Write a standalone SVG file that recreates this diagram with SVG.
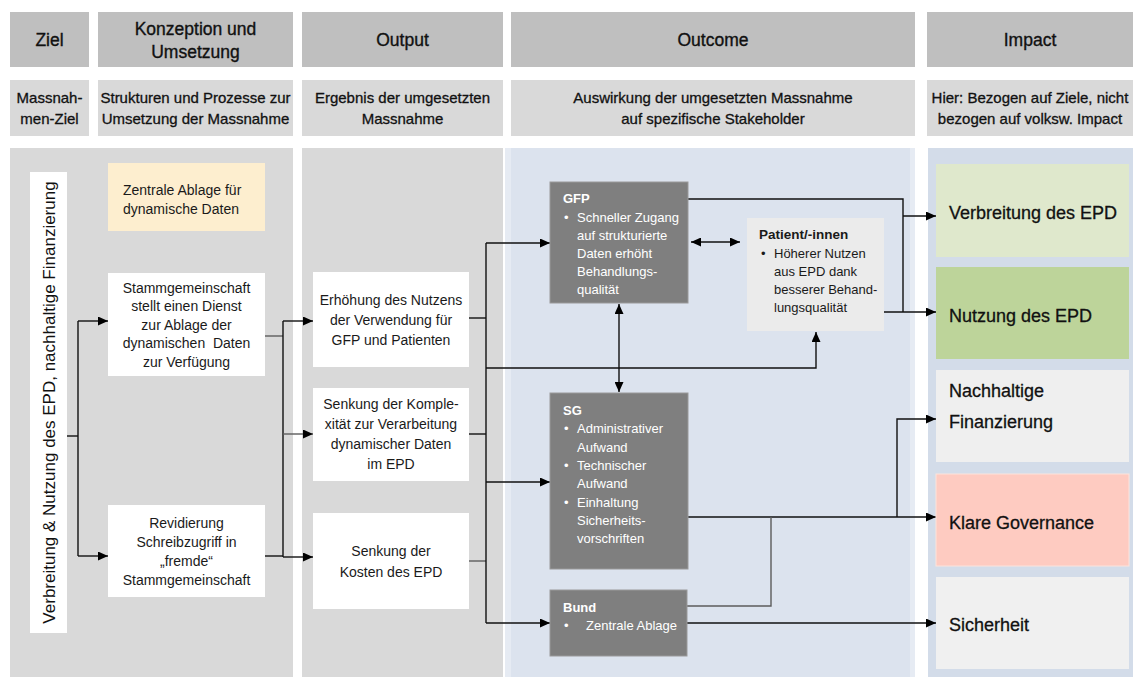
<svg xmlns="http://www.w3.org/2000/svg" width="1133" height="677" viewBox="0 0 1133 677">
  <defs>
    <style>
      text { font-family: "Liberation Sans", Arial, sans-serif; }
      .hdr { fill: #bfbfbf; }
      .sub { fill: #d9d9d9; }
      .col { fill: #d9d9d9; }
      .wbox { fill: #ffffff; }
      .dbox { fill: #7f7f7f; stroke: #9a9a9a; stroke-width: 1; }
      .t-h { font-size: 17.5px; fill: #111; stroke: #111; stroke-width: 0.35; text-anchor: middle; }
      .t-s { font-size: 15px; fill: #111; stroke: #111; stroke-width: 0.3; text-anchor: middle; }
      .t-b { font-size: 14px; fill: #1a1a1a; text-anchor: middle; }
      .t-l { font-size: 14px; fill: #1a1a1a; }
      .t-o { font-size: 13px; fill: #ffffff; }
      .t-ot { font-size: 13px; fill: #ffffff; font-weight: bold; }
      .t-p { font-size: 13px; fill: #1a1a1a; }
      .t-pt { font-size: 13.5px; fill: #1a1a1a; font-weight: bold; }
      .t-i { font-size: 18px; fill: #111; stroke: #111; stroke-width: 0.3; }
      .ln { fill: none; stroke: #111; stroke-width: 1.4; }
      .ln-g { fill: none; stroke: #5c5c5c; stroke-width: 1.4; }
      .arr { marker-end: url(#ah); }
      .arr2 { marker-start: url(#ah); marker-end: url(#ah); }
    </style>
    <marker id="ah" viewBox="0 0 10 9" refX="10" refY="4.5" markerWidth="10" markerHeight="9" markerUnits="userSpaceOnUse" orient="auto-start-reverse">
      <path d="M0,0 L10,4.5 L0,9 z" fill="#000"/>
    </marker>
  </defs>

  <rect width="1133" height="677" fill="#ffffff"/>

  <!-- column headings -->
  <g id="header">
    <rect class="hdr" x="10" y="12" width="79" height="55"/>
    <rect class="hdr" x="98" y="12" width="195" height="55"/>
    <rect class="hdr" x="302" y="12" width="201" height="55"/>
    <rect class="hdr" x="511" y="12" width="404" height="55"/>
    <rect class="hdr" x="927" y="12" width="206" height="55"/>
    <text class="t-h" x="49.5" y="46">Ziel</text>
    <text class="t-h" x="195.5" y="35">Konzeption und</text>
    <text class="t-h" x="195.5" y="58">Umsetzung</text>
    <text class="t-h" x="402.5" y="46">Output</text>
    <text class="t-h" x="713" y="46">Outcome</text>
    <text class="t-h" x="1030" y="46">Impact</text>
  </g>

  <!-- column descriptions -->
  <g id="subheader">
    <rect class="sub" x="10" y="80" width="79" height="56"/>
    <rect class="sub" x="98" y="80" width="195" height="56"/>
    <rect class="sub" x="302" y="80" width="201" height="56"/>
    <rect class="sub" x="511" y="80" width="404" height="56"/>
    <rect class="sub" x="927" y="80" width="206" height="56"/>
    <text class="t-s" x="49.5" y="103">Massnah-</text>
    <text class="t-s" x="49.5" y="124">men-Ziel</text>
    <text class="t-s" x="195.5" y="103">Strukturen und Prozesse zur</text>
    <text class="t-s" x="195.5" y="124">Umsetzung der Massnahme</text>
    <text class="t-s" x="402.5" y="103">Ergebnis der umgesetzten</text>
    <text class="t-s" x="402.5" y="124">Massnahme</text>
    <text class="t-s" x="713" y="103">Auswirkung der umgesetzten Massnahme</text>
    <text class="t-s" x="713" y="124">auf spezifische Stakeholder</text>
    <text class="t-s" x="1030" y="103">Hier: Bezogen auf Ziele, nicht</text>
    <text class="t-s" x="1030" y="124">bezogen auf volksw. Impact</text>
  </g>

  <!-- column bodies -->
  <g id="columns">
    <rect class="col" x="10" y="148" width="283" height="529"/>
    <rect class="col" x="302" y="148" width="201" height="529"/>
    <rect x="505" y="148" width="410" height="529" fill="#e6ebf3"/>
    <rect x="511" y="148" width="399" height="529" fill="#dce3ee"/>
    <rect x="928" y="148" width="205" height="529" fill="#d3dce9"/>
  </g>

  <!-- connectors -->
  <g id="connectors">
    <path class="ln" d="M67,436 H78"/>
    <path class="ln" d="M78,321 V556"/>
    <path class="ln arr" d="M78,321 H108"/>
    <path class="ln arr" d="M78,556 H108"/>

    <path class="ln-g" d="M265,336 H283"/>
    <path class="ln" d="M265,556 H283"/>
    <path class="ln" d="M283,321 V557"/>
    <path class="ln arr" d="M283,321 H313"/>
    <path class="ln-g arr" d="M283,434 H313"/>
    <path class="ln arr" d="M283,557 H313"/>

    <path class="ln" d="M469,318 H486"/>
    <path class="ln" d="M469,434 H486"/>
    <path class="ln-g" d="M469,561 H486"/>
    <path class="ln" d="M486,243 V623"/>
    <path class="ln arr" d="M486,243 H550"/>
    <path class="ln arr" d="M486,482 H550"/>
    <path class="ln arr" d="M486,623 H550"/>
    <path class="ln arr" d="M486,368 H816 V332"/>

    <path class="ln arr2" d="M691,242 H740"/>
    <path class="ln arr2" d="M619,304 V392"/>

    <path class="ln" d="M688,199 H903 V312"/>
    <path class="ln arr" d="M903,216 H936"/>
    <path class="ln arr" d="M884,312 H936"/>

    <path class="ln arr" d="M688,517 H936"/>
    <path class="ln arr" d="M897,517 V419 H936"/>

    <path class="ln-g" d="M687,606 H771 V517"/>
    <path class="ln arr" d="M687,623 H936"/>
  </g>

  <!-- goal label -->
  <g id="goal">
    <rect class="wbox" x="30" y="172" width="37" height="461"/>
    <text transform="translate(48.5,402.5) rotate(-90)" x="0" y="6" font-size="17" fill="#111" text-anchor="middle">Verbreitung &amp; Nutzung des EPD, nachhaltige Finanzierung</text>
  </g>

  <!-- concept and implementation -->
  <g id="zentrale-ablage">
    <rect x="108" y="163" width="157" height="68" fill="#fdeecf"/>
    <text class="t-l" x="123" y="195">Zentrale Ablage für</text>
    <text class="t-l" x="123" y="214">dynamische Daten</text>
  </g>
  <g id="stammgemeinschaft">
    <rect class="wbox" x="108" y="273" width="157" height="103"/>
    <text class="t-b" x="186.5" y="292.5">Stammgemeinschaft</text>
    <text class="t-b" x="186.5" y="311">stellt einen Dienst</text>
    <text class="t-b" x="186.5" y="329.5">zur Ablage der</text>
    <text class="t-b" x="186.5" y="348" xml:space="preserve">dynamischen  Daten</text>
    <text class="t-b" x="186.5" y="366.5">zur Verfügung</text>
  </g>
  <g id="revidierung">
    <rect class="wbox" x="108" y="505" width="157" height="92"/>
    <text class="t-b" x="186.5" y="527.5">Revidierung</text>
    <text class="t-b" x="186.5" y="546.5">Schreibzugriff in</text>
    <text class="t-b" x="186.5" y="565.5">„fremde“</text>
    <text class="t-b" x="186.5" y="584.5">Stammgemeinschaft</text>
  </g>

  <!-- outputs -->
  <g id="output-nutzen">
    <rect class="wbox" x="313" y="272" width="156" height="95"/>
    <text class="t-b" x="391" y="305">Erhöhung des Nutzens</text>
    <text class="t-b" x="391" y="325">der Verwendung für</text>
    <text class="t-b" x="391" y="345">GFP und Patienten</text>
  </g>
  <g id="output-komplexitaet">
    <rect class="wbox" x="313" y="388" width="156" height="93"/>
    <text class="t-b" x="391" y="409">Senkung der Komple-</text>
    <text class="t-b" x="391" y="429">xität zur Verarbeitung</text>
    <text class="t-b" x="391" y="449">dynamischer Daten</text>
    <text class="t-b" x="391" y="469">im EPD</text>
  </g>
  <g id="output-kosten">
    <rect class="wbox" x="313" y="513" width="156" height="96"/>
    <text class="t-b" x="391" y="556">Senkung der</text>
    <text class="t-b" x="391" y="577">Kosten des EPD</text>
  </g>

  <!-- outcomes -->
  <g id="outcome-gfp">
    <rect class="dbox" x="550" y="182" width="138" height="121"/>
    <text class="t-ot" x="563" y="203">GFP</text>
    <text class="t-o" x="564" y="222">•</text>
    <text class="t-o" x="577" y="222">Schneller Zugang</text>
    <text class="t-o" x="577" y="240">auf strukturierte</text>
    <text class="t-o" x="577" y="258">Daten erhöht</text>
    <text class="t-o" x="577" y="276">Behandlungs-</text>
    <text class="t-o" x="577" y="294">qualität</text>
  </g>
  <g id="outcome-patient">
    <rect x="747" y="218" width="137" height="113" fill="#ebebeb"/>
    <text class="t-pt" x="759" y="239">Patient/-innen</text>
    <text class="t-p" x="761" y="258">•</text>
    <text class="t-p" x="774" y="258">Höherer Nutzen</text>
    <text class="t-p" x="774" y="276">aus EPD dank</text>
    <text class="t-p" x="774" y="294">besserer Behand-</text>
    <text class="t-p" x="774" y="312">lungsqualität</text>
  </g>
  <g id="outcome-sg">
    <rect class="dbox" x="550" y="393" width="138" height="176"/>
    <text class="t-ot" x="563" y="415">SG</text>
    <text class="t-o" x="564" y="433">•</text>
    <text class="t-o" x="577" y="433">Administrativer</text>
    <text class="t-o" x="577" y="452">Aufwand</text>
    <text class="t-o" x="564" y="470">•</text>
    <text class="t-o" x="577" y="470">Technischer</text>
    <text class="t-o" x="577" y="488">Aufwand</text>
    <text class="t-o" x="564" y="507">•</text>
    <text class="t-o" x="577" y="507">Einhaltung</text>
    <text class="t-o" x="577" y="525">Sicherheits-</text>
    <text class="t-o" x="577" y="543">vorschriften</text>
  </g>
  <g id="outcome-bund">
    <rect class="dbox" x="550" y="590" width="137" height="66"/>
    <text class="t-ot" x="563" y="612">Bund</text>
    <text class="t-o" x="564" y="630">•</text>
    <text class="t-o" x="586" y="630">Zentrale Ablage</text>
  </g>

  <!-- impacts -->
  <g id="impact-verbreitung">
    <rect x="936" y="164" width="193" height="93" fill="#dfe8cc"/>
    <text class="t-i" x="949" y="219">Verbreitung des EPD</text>
  </g>
  <g id="impact-nutzung">
    <rect x="936" y="267" width="193" height="92" fill="#bdd49a"/>
    <text class="t-i" x="949" y="322">Nutzung des EPD</text>
  </g>
  <g id="impact-finanzierung">
    <rect x="936" y="370" width="193" height="92" fill="#efefef"/>
    <text class="t-i" x="949" y="397">Nachhaltige</text>
    <text class="t-i" x="949" y="428">Finanzierung</text>
  </g>
  <g id="impact-governance">
    <rect x="936" y="474" width="193" height="92" fill="#fecbc1" stroke="#fde3dc" stroke-width="1"/>
    <text class="t-i" x="949" y="529">Klare Governance</text>
  </g>
  <g id="impact-sicherheit">
    <rect x="936" y="577" width="193" height="92" fill="#f0f0f0"/>
    <text class="t-i" x="949" y="631">Sicherheit</text>
  </g>
</svg>
